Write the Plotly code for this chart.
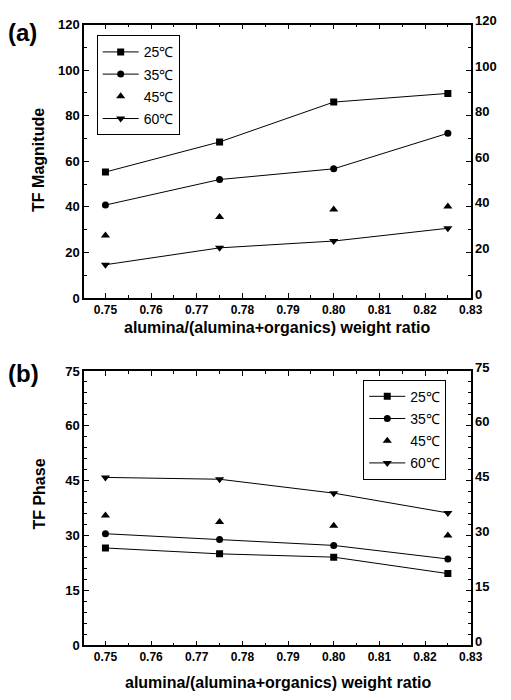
import plotly.graph_objects as go

# ---- data ----
ratio = [0.75, 0.775, 0.80, 0.825]
temps = ["25℃", "35℃", "45℃", "60℃"]

mag_25 = [55.3, 68.5, 86.0, 89.8]
mag_35 = [40.8, 52.0, 56.7, 72.3]
mag_45 = [27.4, 35.5, 38.8, 40.2]
mag_60 = [14.6, 22.0, 25.0, 30.6]

phase_25 = [26.6, 25.0, 24.1, 19.6]
phase_35 = [30.5, 28.9, 27.3, 23.6]
phase_45 = [35.5, 33.7, 32.7, 30.0]
phase_60 = [45.9, 45.4, 41.6, 36.2]

x_ticks = [0.75, 0.76, 0.77, 0.78, 0.79, 0.80, 0.81, 0.82, 0.83]
mag_ticks = [0, 20, 40, 60, 80, 100, 120]
phase_ticks = [0, 15, 30, 45, 60, 75]

symbols = ["square", "circle", "triangle-up", "triangle-down"]
modes = ["lines+markers", "lines+markers", "markers", "lines+markers"]
sizes = [7, 7, 8, 8]

W, H = 511, 700
XD = [86 / W, 482 / W]
YD_A = [1 - 295 / H, 1 - 14 / H]
YD_B = [1 - 652 / H, 1 - 370 / H]

FONT = "Liberation Sans, Arial, sans-serif"
xtickfont = dict(family=FONT, size=12, color="black", weight="bold")
ytickfont = dict(family=FONT, size=13, color="black", weight="bold")

fig = go.Figure()

for name, ys, sym, mode, sz in zip(temps, [mag_25, mag_35, mag_45, mag_60], symbols, modes, sizes):
    fig.add_trace(go.Scatter(
        x=ratio, y=ys, name=name, mode=mode, xaxis="x", yaxis="y",
        marker=dict(symbol=sym, size=sz, color="black"),
        line=dict(color="black", width=1),
        legend="legend", legendgroup="a" + name))
fig.add_trace(go.Scatter(x=ratio, y=mag_25, xaxis="x", yaxis="y2", mode="markers",
                         marker=dict(opacity=0), showlegend=False, hoverinfo="skip"))

for name, ys, sym, mode, sz in zip(temps, [phase_25, phase_35, phase_45, phase_60], symbols, modes, sizes):
    fig.add_trace(go.Scatter(
        x=ratio, y=ys, name=name, mode=mode, xaxis="x2", yaxis="y3",
        marker=dict(symbol=sym, size=sz, color="black"),
        line=dict(color="black", width=1),
        legend="legend2", legendgroup="b" + name))
fig.add_trace(go.Scatter(x=ratio, y=phase_25, xaxis="x2", yaxis="y4", mode="markers",
                         marker=dict(opacity=0), showlegend=False, hoverinfo="skip"))


def xax(anchor):
    return dict(domain=XD, anchor=anchor, range=[0.7453, 0.83],
                tickmode="array", tickvals=x_ticks, ticktext=[f"{v:.2f}" for v in x_ticks],
                ticks="inside", ticklen=5, tickwidth=1.2, tickcolor="black",
                minor=dict(dtick=0.005, tick0=0.75, ticks="inside", ticklen=3, tickcolor="black"),
                showline=True, linecolor="black", linewidth=1.5, mirror="ticks",
                showgrid=False, zeroline=False, tickfont=xtickfont, fixedrange=True)


def yax(domain, anchor, rng, ticks, minor, side="left", overlay=None):
    d = dict(domain=domain, anchor=anchor, range=rng, side=side,
             tickmode="array", tickvals=ticks, ticktext=[str(t) for t in ticks],
             ticks="inside", ticklen=5, tickwidth=1.2, tickcolor="black",
             minor=dict(dtick=minor, tick0=0, ticks="inside", ticklen=3, tickcolor="black"),
             showline=True, linecolor="black", linewidth=1.5,
             showgrid=False, zeroline=False, tickfont=ytickfont, fixedrange=True)
    if overlay:
        d["overlaying"] = overlay
        d["ticklabelshift"] = -4
    return d


legend_common = dict(xanchor="left", yanchor="top", bordercolor="black", borderwidth=1,
                     bgcolor="white", font=dict(family=FONT, size=14, color="black"),
                     traceorder="grouped", tracegroupgap=1, itemwidth=36)

fig.update_layout(
    width=W, height=H, margin=dict(l=0, r=0, t=0, b=0),
    paper_bgcolor="white", plot_bgcolor="white",
    xaxis=xax("y"),
    yaxis=yax(YD_A, "x", [0, 120], mag_ticks, 10),
    yaxis2=yax(YD_A, "x", [0, 120], mag_ticks, 10, side="right", overlay="y"),
    xaxis2=xax("y3"),
    yaxis3=yax(YD_B, "x2", [0, 75], phase_ticks, 3),
    yaxis4=yax(YD_B, "x2", [0, 75], phase_ticks, 3, side="right", overlay="y3"),
    legend=dict(x=99 / W, y=1 - 25 / H, **legend_common),
    legend2=dict(x=372 / W, y=1 - 379 / H, **legend_common),
    showlegend=True,
)

ytitle_font = dict(family=FONT, size=16, color="black", weight="bold")
xtitle_font = dict(family=FONT, size=16, color="black", weight="bold")
panel_font = dict(family=FONT, size=24, color="black", weight="bold")
annots = [
    dict(text="(a)", x=23 / W, y=1 - 22 / H, font=panel_font),
    dict(text="(b)", x=24 / W, y=1 - 373 / H, font=panel_font),
    dict(text="TF Magnitude", x=40 / W, y=1 - 153 / H, textangle=-90, font=ytitle_font),
    dict(text="TF Phase", x=40 / W, y=1 - 497 / H, textangle=-90, font=ytitle_font),
    dict(text="alumina/(alumina+organics) weight ratio", x=284 / W, y=1 - 325 / H, font=xtitle_font),
    dict(text="alumina/(alumina+organics) weight ratio", x=285 / W, y=1 - 690 / H, font=xtitle_font),
]
for a in annots:
    fig.add_annotation(xref="paper", yref="paper", xanchor="center", yanchor="middle",
                       showarrow=False, **a)

fig.write_html("out.html")
